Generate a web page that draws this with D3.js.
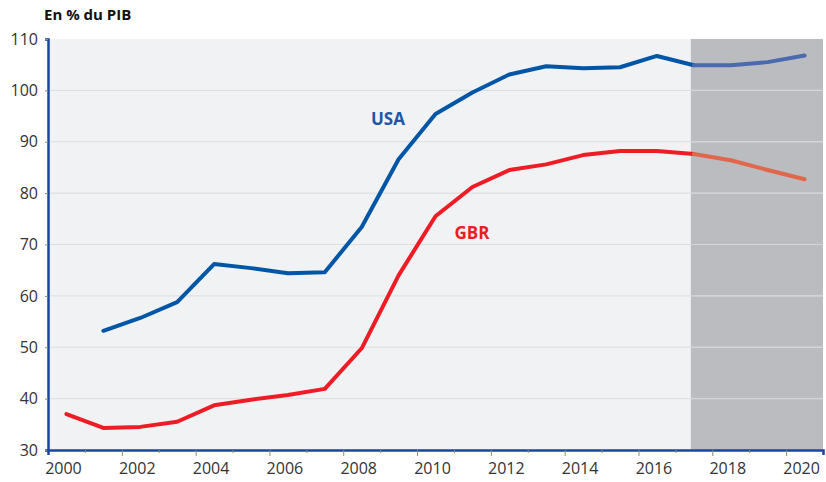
<!DOCTYPE html>
<html>
<head>
<meta charset="utf-8">
<script src="https://cdn.jsdelivr.net/npm/d3@7"></script>
<style>
  body { margin: 0; background: #fff; }
  text { font-family: "Open Sans", "Noto Sans", sans-serif; }
</style>
</head>
<body>
<div class="container"></div>
<script>
// Size of the picture
const width = 826;
const height = 482;

// Data
const years = d3.range(2000, 2021);
const usa = [null, 53.2, 55.7, 58.8, 66.2, 65.4, 64.4, 64.6, 73.4, 86.6, 95.4,
             99.6, 103.1, 104.7, 104.3, 104.5, 106.7, 104.9, 104.9, 105.5, 106.8];
const gbr = [37.0, 34.3, 34.5, 35.5, 38.7, 39.8, 40.7, 41.9, 49.8, 64.0, 75.5,
             81.2, 84.5, 85.6, 87.4, 88.2, 88.2, 87.6, 86.4, 84.5, 82.7];
const yTicks = [30, 40, 50, 60, 70, 80, 90, 100, 110];
const xLabels = [2000, 2002, 2004, 2006, 2008, 2010, 2012, 2014, 2016, 2018, 2020];
const forecastFrom = 2017;

const margin = { left: 48, right: 3, top: 39, bottom: 32 };

const x = d3.scaleLinear()
    .domain([1999.5, 2020.5])
    .range([margin.left, width - margin.right]);

const y = d3.scaleLinear()
    .domain([30, 110])
    .range([height - margin.bottom, margin.top]);

const svg = d3.select(".container").append("svg")
    .attr("width", width)
    .attr("height", height);

// Plot background
svg.append("rect")
    .attr("x", x(1999.5))
    .attr("y", y(110))
    .attr("width", x(2020.5) - x(1999.5))
    .attr("height", y(30) - y(110))
    .attr("fill", "#f1f2f4");

// Forecast shading
svg.append("rect")
    .attr("x", x(forecastFrom) - 3)
    .attr("y", y(110))
    .attr("width", x(2020.5) - x(forecastFrom) + 3)
    .attr("height", y(30) - y(110))
    .attr("fill", "#bbbcc0");

// Gridlines
svg.append("g")
  .selectAll("line")
  .data(yTicks.filter(d => d > 30 && d < 110))
  .enter().append("line")
    .attr("x1", x(1999.5))
    .attr("x2", x(2020.5))
    .attr("y1", d => y(d))
    .attr("y2", d => y(d))
    .attr("stroke", "#dcdde0")
    .attr("stroke-width", 1);

svg.append("g")
  .selectAll("line")
  .data(yTicks.filter(d => d > 30 && d < 110))
  .enter().append("line")
    .attr("x1", x(forecastFrom) - 3)
    .attr("x2", x(2020.5))
    .attr("y1", d => y(d))
    .attr("y2", d => y(d))
    .attr("stroke", "#d4d5d8")
    .attr("stroke-width", 1);

// Lines: history and forecast
function drawSeries(values, color, fcColor) {
  const pts = years.map((yr, i) => ({ yr: yr, v: values[i] }));
  const line = d3.line()
      .defined(d => d.v != null)
      .x(d => x(d.yr))
      .y(d => y(d.v));
  svg.append("path")
      .datum(pts.filter(d => d.yr <= forecastFrom))
      .attr("d", line)
      .attr("fill", "none")
      .attr("stroke", color)
      .attr("stroke-width", 4)
      .attr("stroke-linejoin", "round")
      .attr("stroke-linecap", "round");
  svg.append("path")
      .datum(pts.filter(d => d.yr >= forecastFrom))
      .attr("d", line)
      .attr("fill", "none")
      .attr("stroke", fcColor)
      .attr("stroke-width", 4)
      .attr("stroke-linejoin", "round")
      .attr("stroke-linecap", "round");
}

drawSeries(gbr, "#ee1c25", "#e0674c");
drawSeries(usa, "#0056a6", "#4a69ae");

// Axes
const yAxis = svg.append("g")
    .attr("transform", `translate(${margin.left},0)`)
    .call(d3.axisLeft(y).tickValues(yTicks).tickSize(3).tickPadding(7));
yAxis.select(".domain").attr("stroke", "#1c44a0").attr("stroke-width", 2.5);
yAxis.selectAll(".tick line").attr("stroke", "#888");
yAxis.selectAll(".tick text")
    .attr("font-size", 16)
    .attr("fill", "#333")
    .attr("font-family", "Open Sans, sans-serif");

const xAxis = svg.append("g")
    .attr("transform", `translate(0,${y(30)})`)
    .call(d3.axisBottom(x)
        .tickValues(d3.range(2000.5, 2020.5, 1))
        .tickSize(5)
        .tickFormat(""));
xAxis.select(".domain").attr("stroke", "#1c44a0").attr("stroke-width", 2.5);
xAxis.selectAll(".tick line")
    .attr("stroke", "#888")
    .attr("y2", d => (Math.round(d - 0.5) % 2 === 1) ? 6 : 3);

svg.append("g")
  .selectAll("text")
  .data(xLabels)
  .enter().append("text")
    .attr("x", d => x(d) - 3)
    .attr("y", y(30) + 24)
    .attr("text-anchor", "middle")
    .attr("font-size", 16)
    .attr("fill", "#333")
    .text(d => d);

// Titles and series labels
svg.append("text")
    .attr("x", 44)
    .attr("y", 20)
    .attr("font-size", 15)
    .attr("font-weight", "bold")
    .attr("fill", "#111")
    .text("En % du PIB");

svg.append("text")
    .attr("x", 388)
    .attr("y", 125)
    .attr("text-anchor", "middle")
    .attr("font-size", 17)
    .attr("font-weight", "bold")
    .attr("fill", "#1f57a8")
    .text("USA");

svg.append("text")
    .attr("x", 472)
    .attr("y", 239)
    .attr("text-anchor", "middle")
    .attr("font-size", 17)
    .attr("font-weight", "bold")
    .attr("fill", "#ee1c25")
    .text("GBR");
</script>
</body>
</html>
